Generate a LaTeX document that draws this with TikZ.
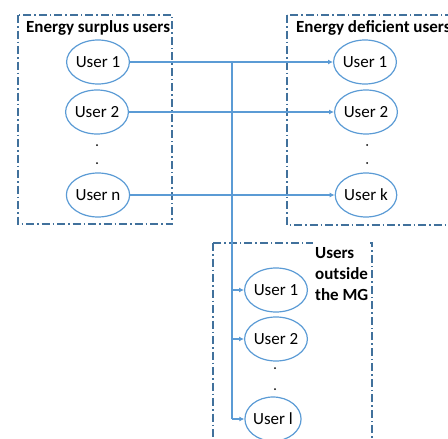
\documentclass[tikz,border=0pt]{standalone}
\usepackage{fontspec}
\setmainfont{Carlito}
\usetikzlibrary{shapes.geometric,arrows.meta}
\definecolor{cblue}{HTML}{5B9BD5}
\definecolor{bblue}{HTML}{41719C}
\tikzset{
  usr/.style={ellipse,draw=cblue,line width=1.2pt,minimum width=52pt,minimum height=44pt,inner sep=0pt,font=\fontsize{17}{20}\selectfont},
  grp/.style={draw=bblue,line width=1.1pt,dash pattern=on 8pt off 3pt on 1.5pt off 3pt},
  conn/.style={draw=cblue,line width=1.3pt},
  arr/.style={conn,-{Latex[length=5pt,width=5pt]}},
  ttl/.style={font=\fontsize{17}{21}\selectfont\bfseries,inner sep=0pt},
  dot/.style={circle,fill=black,inner sep=0pt,minimum size=2pt},
}
\begin{document}
\begin{tikzpicture}[x=1pt,y=-1pt]
\useasboundingbox (0,0) rectangle (448,439);
\begin{scope}
\clip (0,0) rectangle (448,439);
% group boxes
\draw[grp] (18,15) rectangle (172,224);
\draw[grp] (287,15) rectangle (470,225);
\draw[grp] (213,243) rectangle (372,460);
% titles
\node[ttl,anchor=west] (t1) at (26,28) {Energy surplus users};
\node[ttl,anchor=west] (t2) at (296,28) {Energy deficient users};
\node[ttl,anchor=north west,align=left,fill=white,inner xsep=2pt,inner ysep=5pt] (t3) at (313,242) {Users\\outside\\the MG};
% surplus users
\node[usr] (s1) at (98,62) {User 1};
\node[usr] (s2) at (97,112) {User 2};
\node[dot] (sd1) at (97,145) {};
\node[dot] (sd2) at (97,163) {};
\node[usr] (sn) at (98,195) {User n};
% deficient users
\node[usr] (d1) at (365,62) {User 1};
\node[usr] (d2) at (366,112) {User 2};
\node[dot] (dd1) at (367,145) {};
\node[dot] (dd2) at (367,163) {};
\node[usr] (dk) at (366,195) {User k};
% outside users
\node[usr] (o1) at (276,290) {User 1};
\node[usr] (o2) at (276,339) {User 2};
\node[dot] (od1) at (275,368) {};
\node[dot] (od2) at (275,389) {};
\node[usr] (ol) at (273,419) {User l};
% connectors
\draw[arr] (s1.east) -- (d1.west);
\draw[arr] (s2.east) -- (d2.west);
\draw[arr] (sn.east) -- (dk.west);
\coordinate (j) at (232,62);
\draw[conn] (j) -- (j |- ol);
\draw[arr] (j |- o1) -- (o1.west);
\draw[arr] (j |- o2) -- (o2.west);
\draw[arr] (j |- ol) -- (ol.west);
\end{scope}
\end{tikzpicture}
\end{document}
